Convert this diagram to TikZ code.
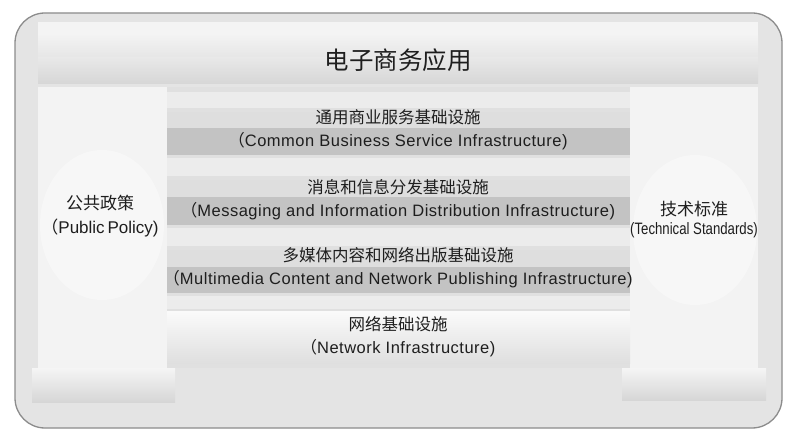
\documentclass[tikz,border=0pt]{standalone}
\usepackage{fontspec}
\setmainfont{Liberation Sans}
\newfontfamily\cjk{Noto Sans CJK SC}
\newfontfamily\spacedfont[LetterSpace=3]{Liberation Sans}
\newfontfamily\narrowfont[FakeStretch=0.8]{Liberation Sans}
\usetikzlibrary{positioning}
\definecolor{framefill}{HTML}{E4E4E4}
\definecolor{frameline}{HTML}{8C8C8C}
\definecolor{panelfill}{HTML}{F3F3F3}
\definecolor{midfill}{HTML}{E0E0E0}
\definecolor{laylight}{HTML}{DEDEDE}
\definecolor{laydark}{HTML}{C3C3C3}
\definecolor{txt}{HTML}{1E1E1E}
\tikzset{
  layertext/.style={align=center, text=txt, font=\spacedfont\fontsize{16.5}{23}\selectfont, inner sep=0pt},
  sidetext/.style={align=center, text=txt, inner sep=0pt},
}
\begin{document}
\begin{tikzpicture}[x=1pt,y=-1pt]
\useasboundingbox (0,0) rectangle (800,435);
\fill[white] (0,0) rectangle (800,435);
% outer frame
\draw[frameline, line width=1.3pt, fill=framefill, rounded corners=30pt] (15,13) rectangle (782,428);
% top inner light band
\fill[white!60!framefill] (38,22) rectangle (758,36);
% title bar
\shade[top color=white!90!gray, bottom color=white!80!gray] (38,36) rectangle (758,58);
\shade[top color=white!82!gray, bottom color=white!68!gray] (38,58) rectangle (758,84);
\node[font=\cjk\fontsize{24.5}{27}\selectfont, text=txt, inner sep=0pt] (title) at (398,60) {电子商务应用};
% side panels
\fill[panelfill] (38,87) rectangle (167,368);
\fill[panelfill] (630,87) rectangle (758,368);
\fill[white, opacity=0.35] (102,225) ellipse (62 and 75);
\fill[white, opacity=0.35] (695,230) ellipse (62 and 75);
% bottom blocks
\shade[top color=white!92!gray, bottom color=white!68!gray] (32,368) rectangle (175,402);
\shade[top color=white!92!gray, bottom color=white!68!gray] (622,368) rectangle (766,400);
% middle column background
\fill[midfill] (167,87) rectangle (630,368);
\fill[white!40!midfill] (167,158) rectangle (630,176);
\fill[white!40!midfill] (167,228) rectangle (630,246);
\fill[white!40!midfill] (167,296) rectangle (630,309);
\fill[white!40!midfill] (167,92) rectangle (630,108);
% layers
\fill[laylight] (167,112) rectangle (630,128);
\fill[laydark] (167,128) rectangle (630,155);
\fill[laylight] (167,180) rectangle (630,197);
\fill[laydark] (167,197) rectangle (630,225);
\fill[laylight] (167,250) rectangle (630,267);
\fill[laydark] (167,267) rectangle (630,293);
\shade[top color=white!96!gray, bottom color=white!75!gray] (167,312) rectangle (630,363);
% layer texts
\node[layertext] (l1) at (398,130) {{\cjk 通用商业服务基础设施}\\{\cjk （}Common Business Service Infrastructure)};
\node[layertext] (l2) at (398,200) {{\cjk 消息和信息分发基础设施}\\{\cjk （}Messaging and Information Distribution Infrastructure)};
\node[layertext] (l3) at (398,268) {{\cjk 多媒体内容和网络出版基础设施}\\{\cjk （}Multimedia Content and Network Publishing Infrastructure)};
\node[layertext] (l4) at (398,337) {{\cjk 网络基础设施}\\{\cjk （}Network Infrastructure)};
% side texts
\node[sidetext, font=\fontsize{17}{24}\selectfont] (pp) at (100,216) {{\cjk 公共政策}\\{\cjk （}Public\,Policy)};
\node[sidetext, font=\fontsize{17}{19}\selectfont] (ts) at (694,220) {{\cjk 技术标准}\\{\narrowfont\fontsize{16.5}{19}\selectfont(Technical Standards)}};
\end{tikzpicture}
\end{document}
